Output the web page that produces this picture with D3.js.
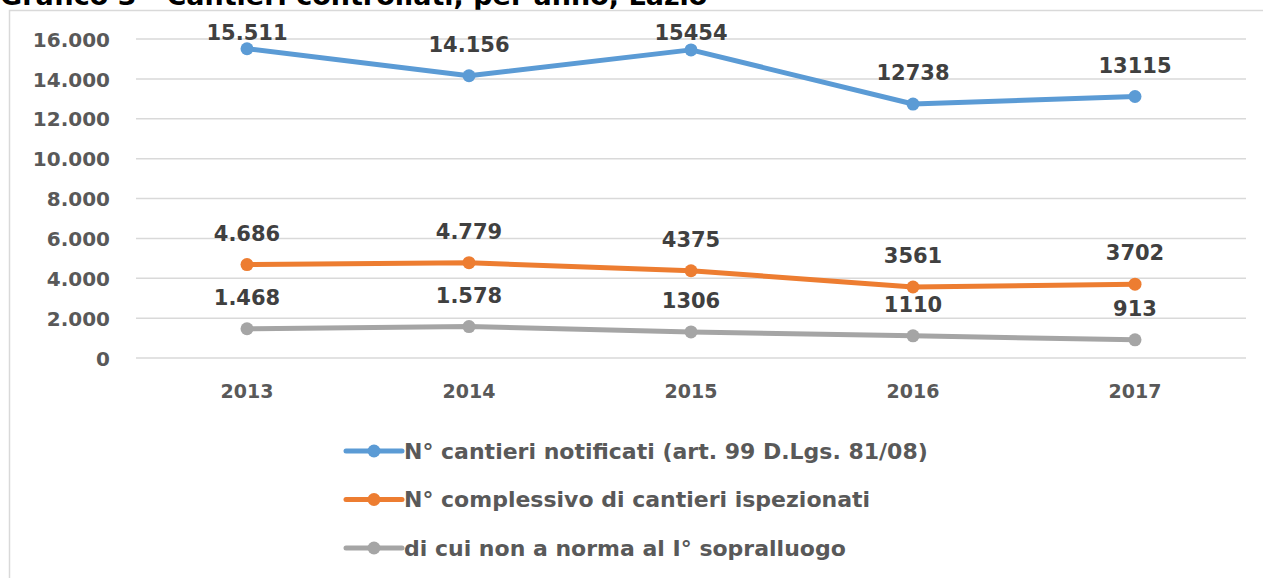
<!DOCTYPE html>
<html>
<head>
<meta charset="UTF-8">
<title>Cantieri per anno</title>
<script src="https://cdnjs.cloudflare.com/ajax/libs/d3/7.8.5/d3.min.js"></script>
<style>
  body { margin: 0; background: #fff; }
  svg { display: block; font-family: "DejaVu Sans", sans-serif; font-weight: bold; }
  svg text { font-family: "DejaVu Sans", sans-serif; }
</style>
</head>
<body>
<div id="chart"></div>
<script>
const years = ["2013", "2014", "2015", "2016", "2017"];
const notificati = [15511, 14156, 15454, 12738, 13115];
const ispezionati = [4686, 4779, 4375, 3561, 3702];
const nonNorma = [1468, 1578, 1306, 1110, 913];
const labelsNotificati = ["15.511", "14.156", "15454", "12738", "13115"];
const labelsIspezionati = ["4.686", "4.779", "4375", "3561", "3702"];
const labelsNonNorma = ["1.468", "1.578", "1306", "1110", "913"];
const seriesNames = [
  "N° cantieri notificati (art. 99 D.Lgs. 81/08)",
  "N° complessivo di cantieri ispezionati",
  "di cui non a norma al I° sopralluogo"
];
const colors = ["#5b9bd5", "#ed7d31", "#a5a5a5"];
const yTicks = [0, 2000, 4000, 6000, 8000, 10000, 12000, 14000, 16000];

const series = [
  {name: seriesNames[0], values: notificati, labels: labelsNotificati, color: colors[0]},
  {name: seriesNames[1], values: ispezionati, labels: labelsIspezionati, color: colors[1]},
  {name: seriesNames[2], values: nonNorma, labels: labelsNonNorma, color: colors[2]}
];

const W = 1263, H = 578;
const svg = d3.select('#chart').append('svg').attr('width', W).attr('height', H);

// title, cut off by the top edge like in the source image
svg.append('text')
  .attr('x', 0).attr('y', 5)
  .style('font-size', '27px').style('fill', '#000')
  .text('Grafico 3 - Cantieri controllati, per anno, Lazio');

// chart frame
svg.append('path')
  .attr('d', 'M9.5,' + H + ' V10.5 H' + W)
  .attr('fill', 'none').attr('stroke', '#d9d9d9').attr('stroke-width', 1.5);

const x = d3.scaleBand().domain(years).range([136, 1246]);
const y = d3.scaleLinear().domain([0, 16000]).range([358, 39]);
const fmt = d => d === 0 ? '0' : d3.format(',')(d).replace(/,/g, '.');

// gridlines
svg.append('g').selectAll('line').data(yTicks).join('line')
  .attr('x1', 136).attr('x2', 1246)
  .attr('y1', d => y(d)).attr('y2', d => y(d))
  .attr('stroke', '#d9d9d9').attr('stroke-width', 1.5);

// y axis
const yAxis = svg.append('g').attr('transform', 'translate(110,0)')
  .call(d3.axisLeft(y).tickValues(yTicks).tickFormat(fmt).tickSize(0).tickPadding(0))
  .attr('font-family', null).attr('font-size', null);
yAxis.select('.domain').remove();
yAxis.selectAll('text').style('font-size', '20px').style('fill', '#595959')
  .attr('dy', '0.36em');

// x axis
const xAxis = svg.append('g').attr('transform', 'translate(0,384)')
  .call(d3.axisBottom(x).tickSize(0).tickPadding(0))
  .attr('font-family', null).attr('font-size', null);
xAxis.select('.domain').remove();
xAxis.selectAll('text').style('font-size', '19px').style('fill', '#595959')
  .attr('dy', '0.75em');

const cx = d => x(d) + x.bandwidth() / 2;
const line = d3.line().x((d, i) => cx(years[i])).y(d => y(d));

series.forEach(s => {
  const g = svg.append('g');
  g.append('path').datum(s.values)
    .attr('d', line).attr('fill', 'none')
    .attr('stroke', s.color).attr('stroke-width', 5).attr('stroke-linejoin', 'round');
  g.selectAll('circle').data(s.values).join('circle')
    .attr('cx', (d, i) => cx(years[i])).attr('cy', d => y(d)).attr('r', 6.5)
    .attr('fill', s.color);
  // labels above the points, kept inside the plot top
  g.selectAll('text').data(s.values).join('text')
    .attr('x', (d, i) => cx(years[i])).attr('y', d => Math.max(y(d) - 24, 40))
    .attr('text-anchor', 'middle')
    .style('font-size', '21px').style('fill', '#404040')
    .text((d, i) => s.labels[i]);
});

// legend
const legend = svg.append('g').selectAll('g').data(series).join('g')
  .attr('transform', (d, i) => 'translate(346,' + (451 + i * 48.5) + ')');
legend.append('line').attr('x1', 0).attr('x2', 56)
  .attr('stroke', d => d.color).attr('stroke-width', 5).attr('stroke-linecap', 'round');
legend.append('circle').attr('cx', 28).attr('r', 6.5).attr('fill', d => d.color);
legend.append('text').attr('x', 58).attr('dy', '0.36em')
  .style('font-size', '22px').style('fill', '#595959')
  .text(d => d.name);
</script>
</body>
</html>
